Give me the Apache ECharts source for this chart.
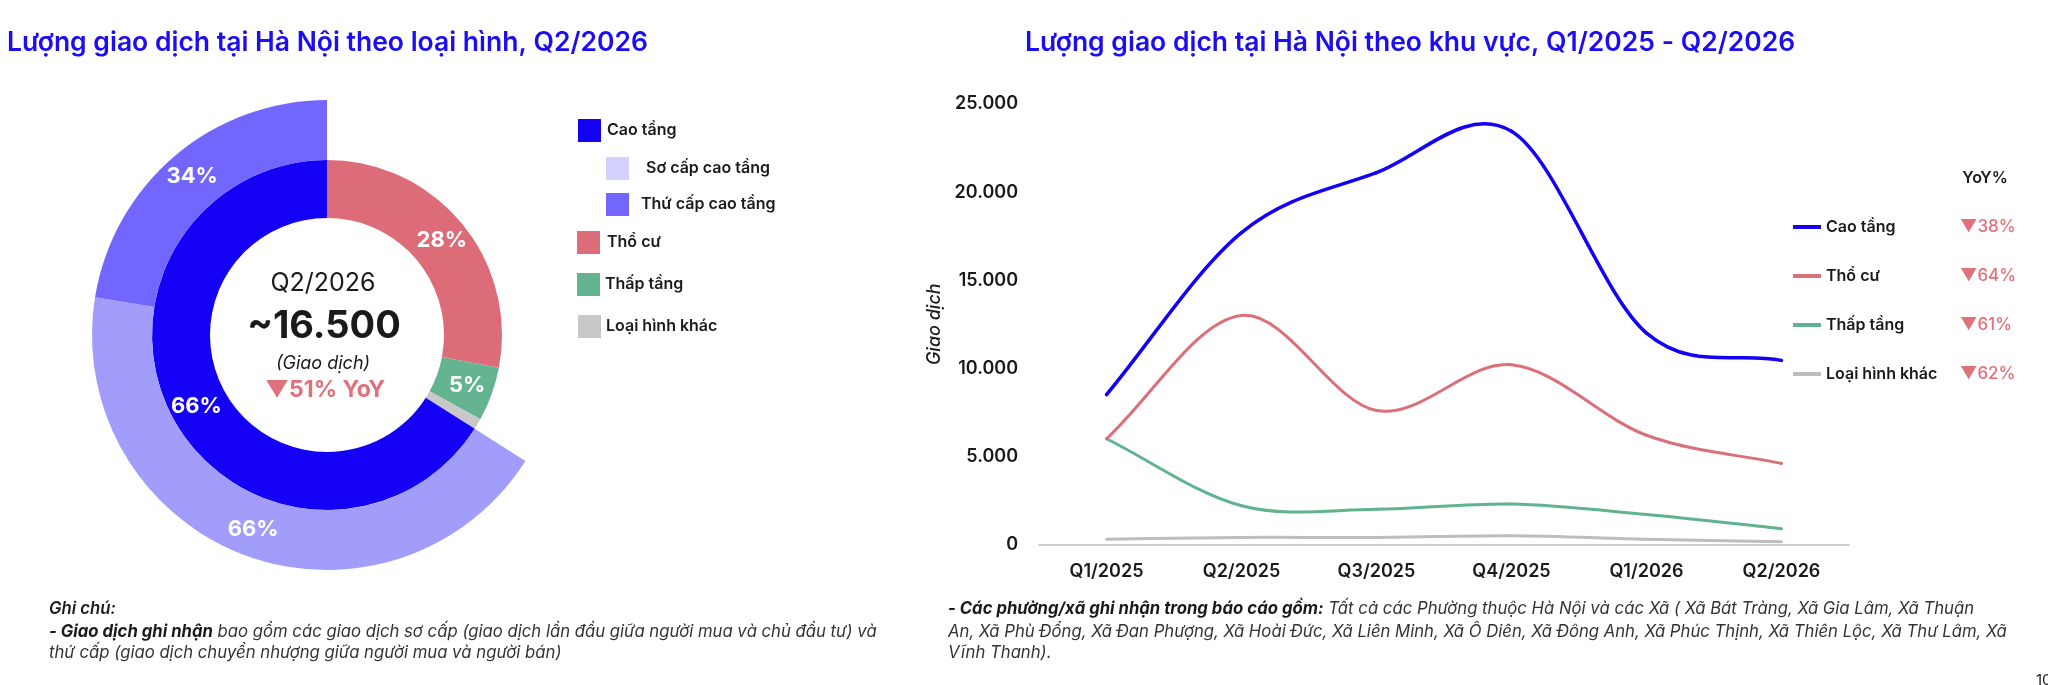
<!DOCTYPE html>
<html>
<head>
<meta charset="utf-8">
<script src="https://cdn.jsdelivr.net/npm/echarts@6/dist/echarts.min.js"></script>
<style>
html,body{margin:0;padding:0;background:#fff;width:2048px;height:685px;overflow:hidden;}
#left{position:absolute;left:0;top:0;width:930px;height:685px;}
#right{position:absolute;left:880px;top:0;width:1168px;height:685px;}
</style>
</head>
<body>
<div id="left"></div>
<div id="right"></div>
<script>
// ---------- Data ----------
const donutNames = ['Thổ cư', 'Thấp tầng', 'Loại hình khác', 'Cao tầng'];
const donutShares = [28, 5, 1, 66];
const caoTangSubNames = ['Sơ cấp cao tầng', 'Thứ cấp cao tầng'];
const caoTangSubShares = [66, 34];
const totalQ2_2026 = '~16.500';
const totalYoY = '51%';

const quarters = ['Q1/2025', 'Q2/2025', 'Q3/2025', 'Q4/2025', 'Q1/2026', 'Q2/2026'];
const lineNames = ['Cao tầng', 'Thổ cư', 'Thấp tầng', 'Loại hình khác'];
const caoTang = [8500, 17700, 21100, 23450, 12000, 10450];
const thoCu = [6000, 13000, 7600, 10200, 6200, 4600];
const thapTang = [6000, 2200, 2000, 2300, 1700, 900];
const khac = [300, 400, 400, 500, 300, 150];
const yoy = ['38%', '64%', '61%', '62%'];
const yTicks = [0, 5000, 10000, 15000, 20000, 25000];

// ---------- Styles ----------
const FONT = 'Inter, "Noto Sans", sans-serif';
const TITLE_BLUE = '#1c0df2';
const C_BLUE = '#1400f5';
const C_RED = '#dc6d78';
const C_GREEN = '#65b491';
const C_GRAY = '#c8c8c8';
const C_SO = '#a29cfa';
const C_SO_LEG = '#d4d0ff';
const C_THU = '#7366ff';
const TXT = '#1a1a1a';
const RED_TXT = '#e0707a';

const donutColors = {'Thổ cư': C_RED, 'Thấp tầng': C_GREEN, 'Loại hình khác': C_GRAY, 'Cao tầng': C_BLUE};
const caoTangValue = donutShares[donutNames.indexOf('Cao tầng')];

const innerData = donutNames.map((n, i) => ({
  name: n, value: donutShares[i],
  itemStyle: {color: donutColors[n]},
  label: {show: donutShares[i] >= 3}
}));
const outerData = [
  {name: '_rest', value: 100 - caoTangValue, itemStyle: {color: 'rgba(0,0,0,0)'}, label: {show: false}, emphasis: {disabled: true}},
  {name: caoTangSubNames[0], value: caoTangValue * caoTangSubShares[0] / 100, share: caoTangSubShares[0], itemStyle: {color: C_SO}},
  {name: caoTangSubNames[1], value: caoTangValue * caoTangSubShares[1] / 100, share: caoTangSubShares[1], itemStyle: {color: C_THU}}
];

function legendOne(name, left, top, color, pad) {
  return {
    data: [{name: name, itemStyle: {color: color}}],
    left: left, top: top, padding: 0, orient: 'vertical',
    icon: 'rect', itemWidth: 23, itemHeight: 23,
    selectedMode: false,
    textStyle: {fontFamily: FONT, fontSize: 16, fontWeight: 600, color: TXT, padding: [0, 0, 0, pad]}
  };
}

const left = echarts.init(document.getElementById('left'), null, {renderer: 'canvas'});
left.setOption({
  animation: false,
  title: {
    text: 'Lượng giao dịch tại Hà Nội theo loại hình, Q2/2026',
    left: 7, top: 30, padding: 0,
    textStyle: {fontFamily: FONT, fontSize: 26.5, fontWeight: 600, color: TITLE_BLUE}
  },
  legend: [
    legendOne('Cao tầng', 578, 119, C_BLUE, 1),
    legendOne('Sơ cấp cao tầng', 606, 157, C_SO_LEG, 12),
    legendOne('Thứ cấp cao tầng', 606, 193, C_THU, 7),
    legendOne('Thổ cư', 577, 231, C_RED, 2),
    legendOne('Thấp tầng', 577, 273, C_GREEN, 0),
    legendOne('Loại hình khác', 578, 315, C_GRAY, 0)
  ],
  series: [
    {
      type: 'pie', name: 'inner', center: [327, 335], radius: [117, 175],
      startAngle: 90, clockwise: true, avoidLabelOverlap: false,
      label: {position: 'inside', formatter: '{c}%', color: '#fff', fontFamily: FONT, fontSize: 22, fontWeight: 700},
      labelLine: {show: false},
      itemStyle: {borderWidth: 0},
      data: innerData
    },
    {
      type: 'pie', name: 'outer', center: [327, 335], radius: [175, 235],
      startAngle: 90, clockwise: true, avoidLabelOverlap: false,
      label: {position: 'inside', formatter: p => p.data.share + '%', color: '#fff', fontFamily: FONT, fontSize: 22, fontWeight: 700},
      labelLine: {show: false},
      itemStyle: {borderWidth: 0},
      data: outerData
    }
  ],
  graphic: [
    {type: 'text', x: 323, y: 283, style: {text: 'Q2/2026', font: '400 25px ' + FONT, fill: TXT, align: 'center', verticalAlign: 'middle'}},
    {type: 'text', x: 324, y: 327, style: {text: totalQ2_2026, font: '700 38px ' + FONT, fill: TXT, align: 'center', verticalAlign: 'middle'}},
    {type: 'text', x: 323, y: 364, style: {text: '(Giao dịch)', font: 'italic 400 18px ' + FONT, fill: TXT, align: 'center', verticalAlign: 'middle'}},
    {type: 'text', x: 325, y: 390, style: {text: '▼' + totalYoY + ' YoY', font: '700 23px ' + FONT, fill: RED_TXT, align: 'center', verticalAlign: 'middle'}},
    {type: 'text', x: 49, y: 609, style: {text: 'Ghi chú:', font: 'italic 600 16.7px ' + FONT, fill: TXT, verticalAlign: 'middle'}},
    {type: 'text', x: 49, y: 632, style: {
      text: '{b|- Giao dịch ghi nhận}{n| bao gồm các giao dịch sơ cấp (giao dịch lần đầu giữa người mua và chủ đầu tư) và}',
      verticalAlign: 'middle',
      rich: {b: {font: 'italic 700 16.7px ' + FONT, fill: TXT}, n: {font: 'italic 400 16.7px ' + FONT, fill: '#333'}}
    }},
    {type: 'text', x: 49, y: 653, style: {text: 'thứ cấp (giao dịch chuyển nhượng giữa người mua và người bán)', font: 'italic 400 16.7px ' + FONT, fill: '#333', verticalAlign: 'middle'}}
  ]
});

// ---------- Right chart ----------
const OX = 880; // page x of the right chart container
const lineColors = [C_BLUE, '#d9707a', '#5fb38e', '#bdbdbd'];
const lineWidths = [3.5, 3, 3, 3];
const lineData = [caoTang, thoCu, thapTang, khac];
const yoyMap = {};
lineNames.forEach((n, i) => yoyMap[n] = yoy[i]);

// Catmull-Rom (spreadsheet-style) smooth line drawn through the axis scales
function smoothRender(values, color, width) {
  return function (params, api) {
    const i = params.dataIndex;
    const n = values.length;
    if (i >= n - 1) return null;
    const P = k => api.coord([k, values[k]]);
    const p0 = P(i), p1 = P(i + 1);
    const pm = i > 0 ? P(i - 1) : [2 * p0[0] - p1[0], 2 * p0[1] - p1[1]];
    const p2 = i + 2 < n ? P(i + 2) : [2 * p1[0] - p0[0], 2 * p1[1] - p0[1]];
    return {
      type: 'bezierCurve',
      shape: {
        x1: p0[0], y1: p0[1], x2: p1[0], y2: p1[1],
        cpx1: p0[0] + (p1[0] - pm[0]) / 6, cpy1: p0[1] + (p1[1] - pm[1]) / 6,
        cpx2: p1[0] - (p2[0] - p0[0]) / 6, cpy2: p1[1] - (p2[1] - p0[1]) / 6
      },
      style: {stroke: color, lineWidth: width, fill: null, lineCap: 'round'}
    };
  };
}

const right = echarts.init(document.getElementById('right'), null, {renderer: 'canvas'});
right.setOption({
  animation: false,
  title: {
    text: 'Lượng giao dịch tại Hà Nội theo khu vực, Q1/2025 - Q2/2026',
    left: 1025 - OX, top: 30, padding: 0,
    textStyle: {fontFamily: FONT, fontSize: 26.5, fontWeight: 600, color: TITLE_BLUE}
  },
  grid: {left: 1039 - OX, right: 199, top: 104, bottom: 140.5, containLabel: false, outerBoundsMode: 'none'},
  xAxis: {
    type: 'category', data: quarters, boundaryGap: true,
    axisLine: {lineStyle: {color: '#bfbfbf', width: 1.5}},
    axisTick: {show: false},
    axisLabel: {fontFamily: FONT, fontSize: 18, fontWeight: 600, color: TXT, margin: 18}
  },
  yAxis: {
    type: 'value', min: yTicks[0], max: yTicks[yTicks.length - 1], interval: 5000,
    name: 'Giao dịch', nameLocation: 'middle', nameRotate: 90, nameGap: 95,
    nameTextStyle: {fontFamily: FONT, fontSize: 18, fontStyle: 'italic', fontWeight: 500, color: TXT},
    axisLine: {show: false}, axisTick: {show: false}, splitLine: {show: false},
    axisLabel: {
      fontFamily: FONT, fontSize: 18, fontWeight: 600, color: TXT, margin: 21,
      formatter: v => String(v).replace(/\B(?=(\d{3})+(?!\d))/g, '.')
    }
  },
  legend: {
    data: lineNames.map((n, i) => ({name: n, itemStyle: {color: lineColors[i]}})),
    orient: 'vertical', left: 1793 - OX, top: 217, padding: 0,
    itemGap: 29, itemWidth: 28, itemHeight: 4, icon: 'rect',
    selectedMode: false,
    formatter: n => '{n|' + n + '}{v|▼' + yoyMap[n] + '}',
    textStyle: {
      fontFamily: FONT, lineHeight: 20,
      rich: {
        n: {fontFamily: FONT, fontSize: 16, fontWeight: 600, color: TXT, width: 134, lineHeight: 20},
        v: {fontFamily: FONT, fontSize: 17, fontWeight: 500, color: RED_TXT, lineHeight: 20}
      }
    }
  },
  series: lineNames.map((n, i) => ({
    name: n, type: 'custom',
    data: lineData[i].map((v, k) => [k, v]),
    encode: {x: 0, y: 1},
    renderItem: smoothRender(lineData[i], lineColors[i], lineWidths[i]),
    itemStyle: {color: lineColors[i]},
    z: 10 - i
  })),
  graphic: [
    {type: 'text', x: 1985 - OX, y: 178, style: {text: 'YoY%', font: '600 16px ' + FONT, fill: TXT, align: 'center', verticalAlign: 'middle'}},
    {type: 'text', x: 948 - OX, y: 609, style: {
      text: '{b|- Các phường/xã ghi nhận trong báo cáo gồm:}{n| Tất cả các Phường thuộc Hà Nội và các Xã ( Xã Bát Tràng, Xã Gia Lâm, Xã Thuận}',
      verticalAlign: 'middle',
      rich: {b: {font: 'italic 700 16.7px ' + FONT, fill: TXT}, n: {font: 'italic 400 16.7px ' + FONT, fill: '#333'}}
    }},
    {type: 'text', x: 948 - OX, y: 632, style: {text: 'An, Xã Phù Đổng, Xã Đan Phượng, Xã Hoài Đức, Xã Liên Minh, Xã Ô Diên, Xã Đông Anh, Xã Phúc Thịnh, Xã Thiên Lộc, Xã Thư Lâm, Xã', font: 'italic 400 16.7px ' + FONT, fill: '#333', verticalAlign: 'middle'}},
    {type: 'text', x: 948 - OX, y: 653, style: {text: 'Vĩnh Thanh).', font: 'italic 400 16.7px ' + FONT, fill: '#333', verticalAlign: 'middle'}},
    {type: 'text', x: 2036 - OX, y: 680, style: {text: '10', font: '400 15px ' + FONT, fill: TXT, verticalAlign: 'middle'}}
  ]
});
</script>
</body>
</html>
